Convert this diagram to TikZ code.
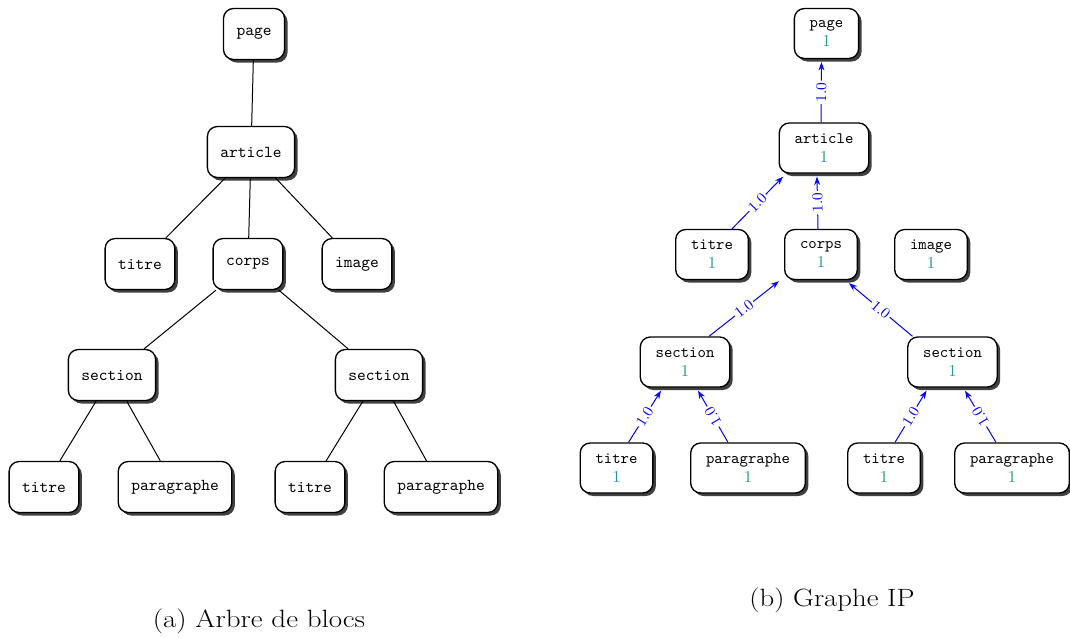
\documentclass[tikz,border=0pt]{standalone}
\usepackage{graphicx}
\usetikzlibrary{shadows,arrows.meta,calc}
\definecolor{tealc}{RGB}{40,150,150}
\tikzset{
  blk/.style={draw, rounded corners=6pt, fill=white, line width=0.8pt,
    minimum height=30.6pt, inner xsep=7.8pt,
    font=\ttfamily\fontsize{10}{12}\selectfont,
    drop shadow={shadow xshift=1.8pt, shadow yshift=-1.8pt, fill=black!75, opacity=1}},
  ipn/.style={blk, minimum height=30pt, inner xsep=9.2pt, align=center,
    font=\ttfamily\fontsize{9.6}{11.4}\selectfont},
  tr/.style={line width=0.6pt, black},
  ipe/.style={line width=0.6pt, blue, -{Stealth[length=5pt,width=3.6pt]}},
  lbl/.style={sloped, fill=white, inner sep=1pt, text=blue,
    font=\rmfamily\fontsize{9}{10}\selectfont},
  captext/.style={font=\rmfamily\fontsize{15}{18}\selectfont}
}
\newcommand{\wt}[1]{#1\\{\rmfamily\fontsize{10}{12}\selectfont\color{tealc}1}}
\begin{document}
\begin{tikzpicture}[x=0.6pt,y=-0.6pt]
\path[use as bounding box] (0,0) rectangle (1070,637);

% (a) block tree
\node[blk] (apa) at (254,34) {page};
\node[blk] (aar) at (251,152) {article};
\node[blk] (ati) at (140,264) {titre};
\node[blk] (aco) at (248,264) {corps};
\node[blk] (aim) at (357,264) {image};
\node[blk] (as1) at (112,375) {section};
\node[blk] (as2) at (379,375) {section};
\node[blk] (at1) at (44,487) {titre};
\node[blk] (ap1) at (175,487) {paragraphe};
\node[blk] (at2) at (310,487) {titre};
\node[blk] (ap2) at (441,487) {paragraphe};

\draw[tr] (apa) -- (aar);
\draw[tr] (aar) -- (ati);
\draw[tr] (aar) -- (aco);
\draw[tr] (aar) -- (aim);
\draw[tr] (aco) -- (as1);
\draw[tr] (aco) -- (as2);
\draw[tr] (as1) -- (at1);
\draw[tr] (as1) -- (ap1);
\draw[tr] (as2) -- (at2);
\draw[tr] (as2) -- (ap2);

% (b) IP graph
\node[ipn] (bpg) at (826.5,33.5) {\wt{page}};
\node[ipn] (bar) at (824,148) {\wt{article}};
\node[ipn] (bti) at (712,254.5) {\wt{titre}};
\node[ipn] (bco) at (821,254.5) {\wt{corps}};
\node[ipn] (bim) at (931,254.5) {\wt{image}};
\node[ipn] (bs1) at (685,362) {\wt{section}};
\node[ipn] (bs2) at (952.5,362) {\wt{section}};
\node[ipn] (bt1) at (616.5,468) {\wt{titre}};
\node[ipn] (bp1) at (748,468) {\wt{paragraphe}};
\node[ipn] (bt2) at (884,468) {\wt{titre}};
\node[ipn] (bp2) at (1012,468) {\wt{paragraphe}};

\draw[ipe] ($(bar.north)+(-3,0)$) -- node[lbl, allow upside down] {1.0} ($(bpg.south)+(-5,3)$);
\draw[ipe] ($(bco.north)+(-3,0)$) -- node[lbl, allow upside down] {1.0} ($(bar.south)+(-7,3)$);
\draw[ipe] ($(bti.north)+(20,0)$) -- node[lbl] {1.0} ($(bar.south)+(-41,3)$);
\draw[ipe] ($(bs1.north)+(24,0)$) -- node[lbl] {1.0} ($(bco.south)+(-42,1)$);
\draw[ipe] ($(bs2.north)+(-40,0)$) -- node[lbl] {1.0} ($(bco.south)+(28,3)$);
\draw[ipe] ($(bt1.north)+(12,0)$) -- node[lbl] {1.0} ($(bs1.south)+(-24,3)$);
\draw[ipe] ($(bp1.north)+(-20,0)$) -- node[lbl, allow upside down] {1.0} ($(bs1.south)+(13,3)$);
\draw[ipe] ($(bt2.north)+(11,0)$) -- node[lbl] {1.0} ($(bs2.south)+(-26,3)$);
\draw[ipe] ($(bp2.north)+(-16,0)$) -- node[lbl, allow upside down] {1.0} ($(bs2.south)+(12.5,3)$);

% captions
\node[captext] (capa) at (259,621) {\scalebox{1.16}[1]{(a) Arbre de blocs}};
\node[captext] (capb) at (832,600) {\scalebox{1.15}[1]{(b) Graphe IP}};
\end{tikzpicture}
\end{document}
